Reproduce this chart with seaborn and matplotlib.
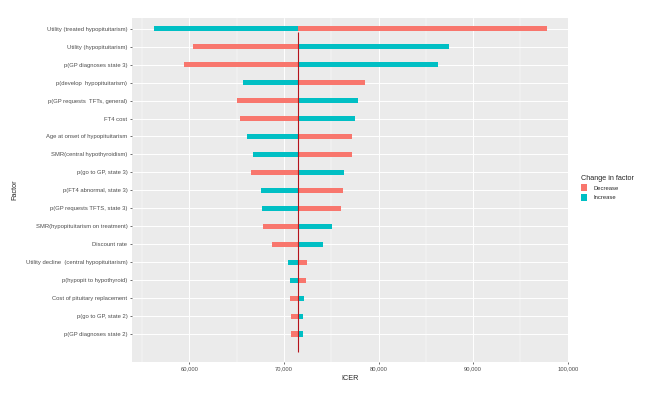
import numpy as np
import pandas as pd
import matplotlib
matplotlib.use("Agg")
import matplotlib.pyplot as plt
from matplotlib.patches import Patch
from matplotlib.ticker import FuncFormatter, MultipleLocator
import seaborn as sns

# 数据
factors = [
    "Utility (treated hypopituitarism)",
    "Utility (hypopituitarism)",
    "p(GP diagnoses state 3)",
    "p(develop  hypopituitarism)",
    "p(GP requests  TFTs, general)",
    "FT4 cost",
    "Age at onset of hypopituitarism",
    "SMR(central hypothyroidism)",
    "p(go to GP, state 3)",
    "p(FT4 abnormal, state 3)",
    "p(GP requests TFTS, state 3)",
    "SMR(hypopituitarism on treatment)",
    "Discount rate",
    "Utility decline  (central hypopituitarism)",
    "p(hypopit to hypothyroid)",
    "Cost of pituitary replacement",
    "p(go to GP, state 2)",
    "p(GP diagnoses state 2)",
]
icer_decrease = [97800, 60350, 59450, 78550, 65050, 65350, 77200, 77200, 66500,
                 76200, 76050, 67800, 68800, 72400, 72300, 70700, 70750, 70750]
icer_increase = [56300, 87450, 86300, 65650, 77850, 77500, 66150, 66700, 76400,
                 67550, 67650, 75050, 74100, 70450, 70600, 72150, 72050, 72050]
base_icer = 71450

df = pd.DataFrame({"Factor": factors, "Decrease": icer_decrease, "Increase": icer_increase})

sns.set_theme(style="darkgrid")
plt.rcParams["font.family"] = ["Liberation Sans", "DejaVu Sans"]
plt.rcParams["axes.facecolor"] = "#EBEBEB"
plt.rcParams["grid.color"] = "white"

colors = {"Decrease": "#F8766D", "Increase": "#00BFC4"}

fig = plt.figure(figsize=(6.55, 3.95), dpi=100)
ax = fig.add_axes([0.201, 0.0835, 0.6666, 0.871])

y = np.arange(len(df))
bar_h = 0.28
for change in ["Decrease", "Increase"]:
    ax.barh(y, df[change] - base_icer, left=base_icer, height=bar_h,
            color=colors[change], linewidth=0, zorder=3)

# 基准线
ax.vlines(base_icer, 0.18, len(df), color="#B5121B", linewidth=0.8, zorder=4)

ax.set_xlim(53920, 100050)
ax.set_ylim(len(df) + 0.56, -0.6)
ax.set_yticks(y)
ax.set_yticklabels(df["Factor"])
ax.xaxis.set_major_locator(MultipleLocator(10000))
ax.xaxis.set_minor_locator(MultipleLocator(5000))
ax.xaxis.set_major_formatter(FuncFormatter(lambda v, p: f"{int(v):,}"))

ax.grid(which="major", color="white", linewidth=0.7)
ax.grid(which="minor", axis="x", color="white", linewidth=0.35)
ax.set_axisbelow(True)
for s in ax.spines.values():
    s.set_visible(False)

ax.tick_params(axis="both", which="major", labelsize=4.2, labelcolor="#4D4D4D",
               length=1.6, width=0.5, color="#333333", pad=1.5,
               bottom=True, left=True)
ax.tick_params(axis="x", which="minor", length=0)

ax.set_xlabel("ICER", fontsize=5.2, labelpad=2.5)
ax.set_ylabel("Factor", fontsize=5.2, labelpad=5)

handles = [Patch(facecolor=colors[k], edgecolor="none", label=k) for k in ["Decrease", "Increase"]]
leg = fig.legend(handles=handles, title="Change in factor", loc="upper left",
                 bbox_to_anchor=(578 / 655, 1 - 172 / 395), frameon=False,
                 fontsize=4.2, title_fontsize=5.2, handlelength=1.0, handleheight=1.5,
                 handletextpad=1.2, borderpad=0, labelspacing=0.4)
leg._legend_box.align = "left"

fig.savefig("out.png", dpi=100)
